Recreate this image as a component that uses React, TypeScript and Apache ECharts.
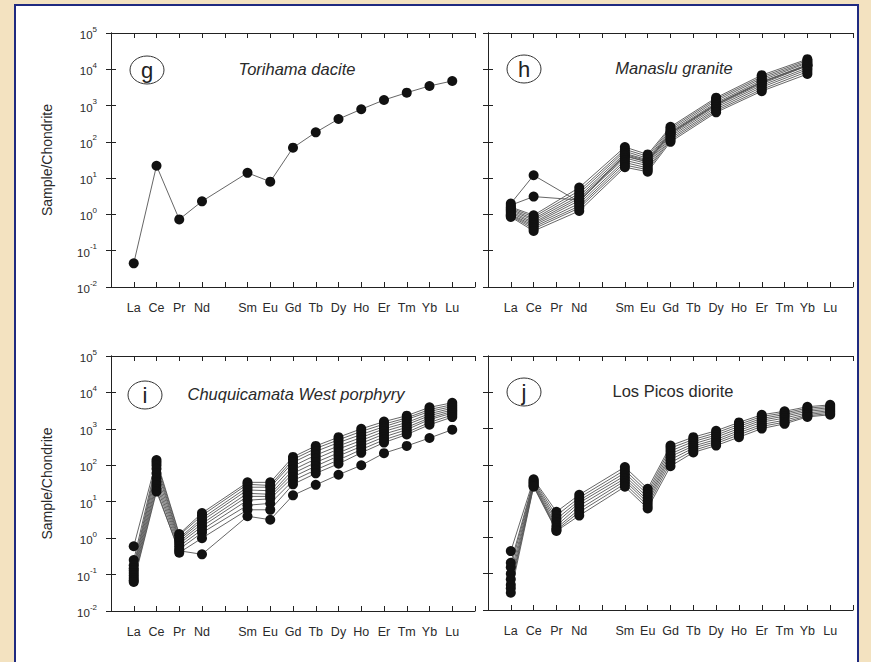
import React, { useEffect, useRef } from 'react';
import * as echarts from 'echarts';

// x positions 0..16 ; Pm (5) is left unlabelled as in the source figure
const X_TICK_LABELS = ['', 'La', 'Ce', 'Pr', 'Nd', '', 'Sm', 'Eu', 'Gd', 'Tb', 'Dy', 'Ho', 'Er', 'Tm', 'Yb', 'Lu', ''];
const Y_MIN = 0.01;
const Y_MAX = 100000;

// (g) Torihama dacite
const TORIHAMA_ELEMENTS = ['La', 'Ce', 'Pr', 'Nd', 'Sm', 'Eu', 'Gd', 'Tb', 'Dy', 'Ho', 'Er', 'Tm', 'Yb', 'Lu'];
const TORIHAMA = [0.045, 22, 0.73, 2.3, 14, 8, 69, 183, 426, 790, 1425, 2265, 3470, 4760];

// (h) Manaslu granite
const MANASLU_ELEMENTS = ['La', 'Ce', 'Nd', 'Sm', 'Eu', 'Gd', 'Dy', 'Er', 'Yb'];
const MANASLU = [
  [2.0, 12, 2.2, 45, 30, 180, 1100, 4500, 13000],
  [1.8, 3.1, 2.5, 40, 28, 170, 1050, 4300, 12500],
  [1.6, 0.95, 5.5, 72, 45, 260, 1650, 6900, 19000],
  [1.5, 0.85, 4.5, 62, 40, 235, 1500, 6200, 17500],
  [1.4, 0.75, 3.8, 55, 35, 210, 1350, 5600, 16000],
  [1.3, 0.68, 3.2, 48, 32, 190, 1200, 5000, 15000],
  [1.2, 0.6, 2.8, 42, 28, 170, 1100, 4500, 13500],
  [1.1, 0.55, 2.4, 36, 25, 155, 1000, 4000, 12500],
  [1.0, 0.5, 2.0, 31, 22, 140, 900, 3600, 11000],
  [0.95, 0.45, 1.7, 27, 19, 125, 800, 3200, 9800],
  [0.9, 0.4, 1.5, 23, 17, 112, 720, 2800, 8600],
  [0.85, 0.35, 1.25, 20, 15, 100, 650, 2500, 7400],
];

// (i) Chuquicamata West porphyry
const CHUQUI_ELEMENTS = ['La', 'Ce', 'Pr', 'Nd', 'Sm', 'Eu', 'Gd', 'Tb', 'Dy', 'Ho', 'Er', 'Tm', 'Yb', 'Lu'];
const CHUQUI = [
  [0.6, 140, 1.3, 4.9, 34, 34, 170, 340, 590, 1000, 1580, 2300, 3900, 5200],
  [0.25, 120, 1.2, 4.2, 30, 28, 145, 290, 500, 850, 1350, 2000, 3400, 4600],
  [0.18, 100, 1.0, 3.5, 25, 25, 120, 240, 420, 700, 1150, 1800, 3000, 4100],
  [0.15, 80, 0.9, 3.0, 21, 20, 95, 190, 340, 580, 1000, 1500, 2600, 3700],
  [0.13, 60, 0.8, 2.5, 17, 16, 75, 150, 280, 480, 850, 1300, 2300, 3300],
  [0.11, 45, 0.7, 2.1, 14, 14, 60, 120, 220, 400, 720, 1100, 2000, 3000],
  [0.095, 35, 0.6, 1.7, 11, 12, 48, 95, 180, 330, 600, 950, 1800, 2700],
  [0.08, 28, 0.5, 1.4, 8, 9, 38, 75, 140, 270, 500, 800, 1500, 2400],
  [0.07, 22, 0.4, 1.0, 6, 6, 30, 60, 110, 220, 420, 700, 1300, 2100],
  [0.063, 19, 0.45, 0.36, 4, 3.2, 15, 29, 55, 100, 215, 340, 560, 950],
];

// (j) Los Picos diorite
const PICOS_ELEMENTS = ['La', 'Ce', 'Pr', 'Nd', 'Sm', 'Eu', 'Gd', 'Tb', 'Dy', 'Ho', 'Er', 'Tm', 'Yb', 'Lu'];
const PICOS = [
  [0.42, 40, 5.1, 15, 87, 22, 340, 580, 870, 1480, 2400, 3000, 4000, 4500],
  [0.2, 37, 4.0, 12.5, 72, 18, 290, 500, 760, 1300, 2150, 2700, 3650, 4100],
  [0.15, 34, 3.2, 10.5, 60, 15, 240, 440, 660, 1150, 1900, 2450, 3300, 3750],
  [0.1, 32, 2.6, 9, 50, 12.5, 200, 380, 580, 1000, 1700, 2200, 3000, 3400],
  [0.07, 30, 2.1, 7.5, 42, 10.5, 170, 330, 500, 880, 1500, 1950, 2700, 3100],
  [0.05, 28, 1.8, 6, 36, 9, 140, 290, 440, 770, 1300, 1700, 2450, 2850],
  [0.04, 26, 1.6, 5, 30, 7.5, 115, 250, 390, 670, 1150, 1500, 2250, 2600],
  [0.03, 25, 1.5, 4, 25, 6.3, 92, 220, 340, 580, 1000, 1350, 2100, 2400],
];

const FONT = "'Liberation Sans', Arial, sans-serif";
const AXIS_COLOR = '#222';
const TEXT_COLOR = '#2a2a2a';

const GRIDS = [
  { left: 111, top: 33, width: 364, height: 254 },
  { left: 488, top: 33, width: 365, height: 254 },
  { left: 111, top: 356, width: 364, height: 255 },
  { left: 488, top: 356, width: 365, height: 254 },
];

function xAxes(gridIndex: number) {
  const line = { show: true, lineStyle: { color: AXIS_COLOR, width: 1 } };
  const tick = { show: true, inside: true, length: 5, lineStyle: { color: AXIS_COLOR, width: 1 } };
  return [
    {
      type: 'value', gridIndex, position: 'bottom', min: 0, max: 16, interval: 1,
      axisLine: line, axisTick: tick, splitLine: { show: false },
      axisLabel: {
        formatter: (v: number) => X_TICK_LABELS[Math.round(v)] ?? '',
        fontSize: 12.5, color: TEXT_COLOR, fontFamily: FONT, margin: 14,
      },
    },
    {
      type: 'value', gridIndex, position: 'top', min: 0, max: 16, interval: 1,
      axisLine: line, axisTick: tick, splitLine: { show: false }, axisLabel: { show: false },
    },
  ];
}

function yAxes(gridIndex: number, isLeftPanel: boolean) {
  const line = { show: true, lineStyle: { color: AXIS_COLOR, width: 1 } };
  const tick = { show: true, inside: true, length: 5, lineStyle: { color: AXIS_COLOR, width: 1 } };
  return [
    {
      type: 'log', logBase: 10, gridIndex, position: 'left', min: Y_MIN, max: Y_MAX, splitNumber: 7,
      axisLine: line, axisTick: tick, splitLine: { show: false }, minorTick: { show: false },
      name: isLeftPanel ? 'Sample/Chondrite' : '',
      nameLocation: 'middle', nameGap: 57, nameRotate: 90,
      nameTextStyle: { fontSize: 14, color: TEXT_COLOR, fontFamily: FONT },
      axisLabel: {
        show: isLeftPanel,
        margin: 14,
        formatter: (v: number) => `{b|10}{s|${Math.round(Math.log10(v))}}`,
        rich: {
          b: { fontSize: 11.5, color: TEXT_COLOR, fontFamily: FONT, verticalAlign: 'bottom', lineHeight: 16 },
          s: { fontSize: 8, color: TEXT_COLOR, fontFamily: FONT, verticalAlign: 'top', lineHeight: 16 },
        },
      },
    },
    {
      type: 'log', logBase: 10, gridIndex, position: 'right', min: Y_MIN, max: Y_MAX, splitNumber: 7,
      axisLine: line, axisTick: tick, splitLine: { show: false }, axisLabel: { show: false },
    },
  ];
}

function sampleSeries(gridIndex: number, elements: string[], values: number[], name: string) {
  return {
    type: 'line', name,
    xAxisIndex: gridIndex * 2, yAxisIndex: gridIndex * 2,
    data: elements.map((el, i) => [X_TICK_LABELS.indexOf(el), values[i]]),
    symbol: 'circle', symbolSize: 10,
    itemStyle: { color: '#111' },
    lineStyle: { color: '#555', width: 0.9 },
    silent: true,
  };
}

function panelLabel(cx: number, cy: number, letter: string, title: string, tx: number, ty: number, italic: boolean) {
  return [
    { type: 'ellipse', shape: { cx, cy, rx: 17, ry: 14 }, style: { fill: '#fff', stroke: '#333', lineWidth: 1 }, z: 10 },
    {
      type: 'text', x: cx, y: cy, z: 11,
      style: { text: letter, fontSize: 22, fontFamily: FONT, fill: '#222', align: 'center', verticalAlign: 'middle' },
    },
    {
      type: 'text', x: tx, y: ty, z: 11,
      style: {
        text: title, fontSize: 16.5, fontFamily: FONT, fontStyle: italic ? 'italic' : 'normal',
        fill: '#2a2a2a', align: 'center', verticalAlign: 'middle',
      },
    },
  ];
}

export default function App() {
  const ref = useRef<HTMLDivElement>(null);
  useEffect(() => {
    if (!ref.current) return;
    const chart = echarts.init(ref.current, undefined, { renderer: 'svg' });
    const series: any[] = [];
    series.push(sampleSeries(0, TORIHAMA_ELEMENTS, TORIHAMA, 'Torihama'));
    MANASLU.forEach((s, i) => series.push(sampleSeries(1, MANASLU_ELEMENTS, s, 'Manaslu ' + (i + 1))));
    CHUQUI.forEach((s, i) => series.push(sampleSeries(2, CHUQUI_ELEMENTS, s, 'Chuqui ' + (i + 1))));
    PICOS.forEach((s, i) => series.push(sampleSeries(3, PICOS_ELEMENTS, s, 'Picos ' + (i + 1))));
    chart.setOption({
      animation: false,
      backgroundColor: 'transparent',
      grid: GRIDS,
      xAxis: [...xAxes(0), ...xAxes(1), ...xAxes(2), ...xAxes(3)],
      yAxis: [...yAxes(0, true), ...yAxes(1, false), ...yAxes(2, true), ...yAxes(3, false)],
      series,
      graphic: [
        ...panelLabel(147, 70, 'g', 'Torihama dacite', 297, 69, true),
        ...panelLabel(524, 69, 'h', 'Manaslu granite', 674, 68, true),
        ...panelLabel(145, 395, 'i', 'Chuquicamata West porphyry', 296, 394, true),
        ...panelLabel(524, 392, 'j', 'Los Picos diorite', 673, 391, false),
      ],
    });
    return () => chart.dispose();
  }, []);
  return (
    <div style={{ position: 'absolute', left: 0, top: 0, width: 871, height: 662, background: '#F3E2C0', overflow: 'hidden' }}>
      <div style={{ position: 'absolute', left: 14, top: 4, width: 845, height: 670, background: '#fff', border: '2px solid #1f2a80', boxSizing: 'border-box' }} />
      <div ref={ref} style={{ position: 'absolute', left: 0, top: 0, width: 871, height: 662 }} />
    </div>
  );
}
